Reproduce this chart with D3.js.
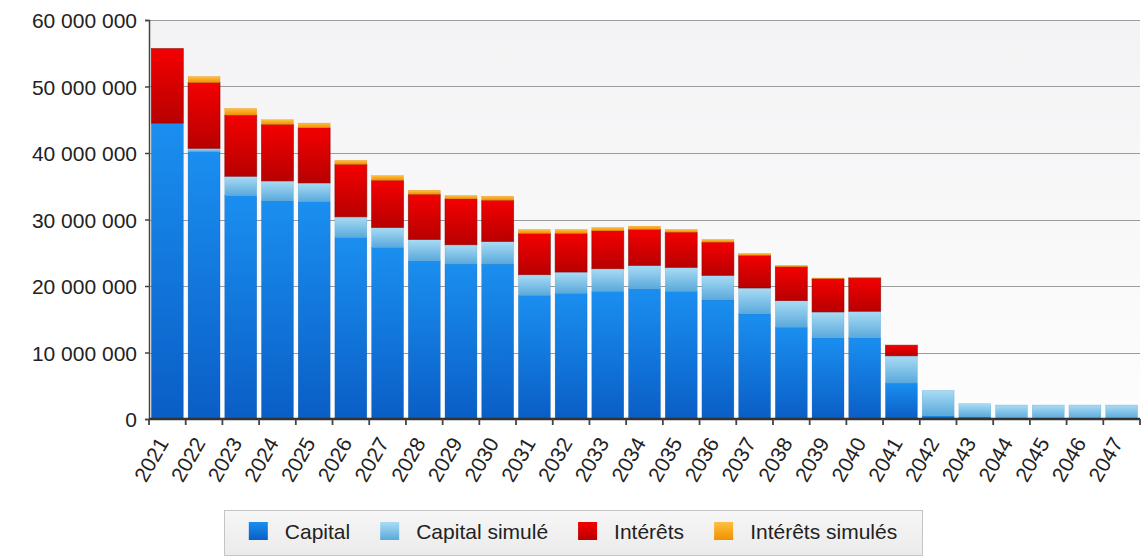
<!DOCTYPE html>
<html>
<head>
<meta charset="utf-8">
<script src="https://cdn.jsdelivr.net/npm/d3@7"></script>
<style>
  body { margin: 0; background: #fff; overflow: hidden; }
  svg { display: block; font-family: "Liberation Sans", Arial, Helvetica, sans-serif; }
  .y-axis text { fill: #222; font-size: 21px; }
  .x-axis text { fill: #222; font-size: 21px; }
  .legend text { fill: #222; font-size: 21px; }
</style>
</head>
<body>
<div id="viz"></div>
<script>
const years = d3.range(2021, 2048).map(String)

// montants en millions
const capital        = [44.5, 40.2, 33.6, 32.8, 32.7, 27.3, 25.8, 23.8, 23.3, 23.3, 18.6, 18.9, 19.2, 19.6, 19.2, 17.9, 15.8, 13.8, 12.2, 12.2, 5.4, 0.5, 0.3, 0, 0, 0, 0]
const capitalSimule  = [0, 0.5, 2.9, 3.0, 2.8, 3.1, 3.0, 3.2, 2.9, 3.4, 3.1, 3.2, 3.4, 3.5, 3.6, 3.7, 3.9, 4.0, 3.9, 4.0, 4.1, 3.8, 2.0, 2.1, 2.1, 2.1, 2.1]
const interets       = [11.2, 9.9, 9.2, 8.5, 8.3, 7.9, 7.1, 6.8, 6.9, 6.2, 6.2, 5.8, 5.7, 5.4, 5.3, 5.0, 4.9, 5.1, 5.0, 5.0, 1.6, 0, 0, 0, 0, 0, 0]
const interetsSimule = [0, 0.9, 1.0, 0.7, 0.7, 0.6, 0.7, 0.6, 0.5, 0.6, 0.6, 0.6, 0.5, 0.5, 0.4, 0.4, 0.3, 0.2, 0.1, 0.1, 0, 0, 0, 0, 0, 0, 0]

const seriesNames = ["Capital", "Capital simulé", "Intérêts", "Intérêts simulés"]
const seriesKeys = ["capital", "capitalSimule", "interets", "interetsSimule"]
const yTicks = [0, 10000000, 20000000, 30000000, 40000000, 50000000, 60000000]

// couleurs : [haut, bas, bord]
const colors = {
  capital:        ["#1a8ff0", "#0a5ec6", "#0a55b0"],
  capitalSimule:  ["#a9dcf4", "#5aa9dc", "#5aa0d0"],
  interets:       ["#f40000", "#b80000", "#8c0000"],
  interetsSimule: ["#ffc040", "#f09000", "#e08000"]
}

const width = 1144
const height = 557
const margin = {top: 20, right: 4, bottom: 138, left: 149}
const innerWidth = width - margin.left - margin.right
const innerHeight = height - margin.top - margin.bottom

const data = years.map((y, i) => ({
  year: y,
  capital: capital[i] * 1e6,
  capitalSimule: capitalSimule[i] * 1e6,
  interets: interets[i] * 1e6,
  interetsSimule: interetsSimule[i] * 1e6
}))

const svg = d3.select("#viz").append("svg")
  .attr("width", width)
  .attr("height", height)

const defs = svg.append("defs")

const bg = defs.append("linearGradient").attr("id", "bg-grad")
  .attr("x1", 0).attr("y1", 0).attr("x2", 0).attr("y2", 1)
bg.append("stop").attr("offset", "0%").attr("stop-color", "#f3f3f5")
bg.append("stop").attr("offset", "100%").attr("stop-color", "#fdfdfd")

seriesKeys.forEach(k => {
  const gr = defs.append("linearGradient").attr("id", "grad-" + k)
    .attr("x1", 0).attr("y1", 0).attr("x2", 0).attr("y2", 1)
  gr.append("stop").attr("offset", "0%").attr("stop-color", colors[k][0])
  gr.append("stop").attr("offset", "100%").attr("stop-color", colors[k][1])
})

const lg = defs.append("linearGradient").attr("id", "legend-grad")
  .attr("x1", 0).attr("y1", 0).attr("x2", 0).attr("y2", 1)
lg.append("stop").attr("offset", "0%").attr("stop-color", "#f6f6f6")
lg.append("stop").attr("offset", "100%").attr("stop-color", "#ebebeb")

const g = svg.append("g")
  .attr("transform", "translate(" + margin.left + "," + margin.top + ")")

const xScale = d3.scaleBand()
  .domain(years)
  .range([0, innerWidth])
  .paddingInner(0.13)
  .paddingOuter(0.065)

const yScale = d3.scaleLinear()
  .domain([0, 60000000])
  .range([innerHeight, 0])

// fond de la zone de tracé
g.append("rect")
  .attr("width", innerWidth)
  .attr("height", innerHeight)
  .attr("fill", "url(#bg-grad)")

// grille
g.append("g")
  .selectAll("line")
  .data(yTicks.slice(1))
  .enter().append("line")
  .attr("x1", 0)
  .attr("x2", innerWidth)
  .attr("y1", d => Math.round(yScale(d)) + 0.5)
  .attr("y2", d => Math.round(yScale(d)) + 0.5)
  .attr("stroke", "#9c9c9c")
  .attr("stroke-width", 1.2)

// barres empilées
const stack = d3.stack().keys(seriesKeys)
const layers = stack(data)

g.selectAll(".layer")
  .data(layers)
  .enter().append("g")
  .attr("class", "layer")
  .each(function(layer) {
    const k = layer.key
    d3.select(this).selectAll("rect")
      .data(layer.filter(d => d[1] - d[0] > 0))
      .enter().append("rect")
      .attr("x", d => xScale(d.data.year))
      .attr("y", d => yScale(d[1]))
      .attr("width", xScale.bandwidth())
      .attr("height", d => yScale(d[0]) - yScale(d[1]))
      .attr("fill", "url(#grad-" + k + ")")
      .attr("stroke", colors[k][2])
      .attr("stroke-width", k == "interets" ? 0.8 : 0.4)
      .attr("stroke-opacity", 0.7)
  })

// axe Y
const yAxisG = g.append("g")
  .attr("class", "y-axis")
  .call(d3.axisLeft(yScale)
    .tickValues(yTicks)
    .tickSize(4)
    .tickPadding(8)
    .tickFormat(d => d3.format(",")(d).replace(/,/g, " ")))
yAxisG.select(".domain").attr("stroke", "#444").attr("stroke-width", 1.5)
yAxisG.selectAll(".tick line").attr("stroke", "#444").attr("stroke-width", 1.5)
yAxisG.selectAll("text").attr("dy", "0.36em")

// axe X
const xAxisG = g.append("g")
  .attr("class", "x-axis")
  .attr("transform", "translate(0," + innerHeight + ")")

xAxisG.append("line")
  .attr("x1", 0).attr("x2", innerWidth)
  .attr("y1", 0).attr("y2", 0)
  .attr("stroke", "#333")
  .attr("stroke-width", 2.5)

const step = xScale.step()
xAxisG.selectAll(".xtick")
  .data(d3.range(years.length + 1))
  .enter().append("line")
  .attr("class", "xtick")
  .attr("x1", i => i * step)
  .attr("x2", i => i * step)
  .attr("y1", 0).attr("y2", 6)
  .attr("stroke", "#444")
  .attr("stroke-width", 1.8)

xAxisG.selectAll(".xlabel")
  .data(years)
  .enter().append("text")
  .attr("class", "xlabel")
  .attr("text-anchor", "end")
  .attr("transform", d => "translate(" + (xScale(d) + xScale.bandwidth() / 2 + 2) + ",24) rotate(-60)")
  .text(d => d)

// légende
const legend = svg.append("g").attr("class", "legend")
legend.append("rect")
  .attr("x", 224.5).attr("y", 510.5)
  .attr("width", 698).attr("height", 45)
  .attr("fill", "url(#legend-grad)")
  .attr("stroke", "#c4c4c4")

const items = legend.append("g")
let xPos = 0
seriesKeys.forEach((k, i) => {
  const it = items.append("g").attr("transform", "translate(" + xPos + ",0)")
  it.append("rect")
    .attr("x", 0).attr("y", 522)
    .attr("width", 19).attr("height", 18)
    .attr("fill", "url(#grad-" + k + ")")
  const t = it.append("text")
    .attr("x", 36).attr("y", 539)
    .text(seriesNames[i])
  xPos += 36 + t.node().getComputedTextLength() + 30
})
const itemsWidth = xPos - 30
items.attr("transform", "translate(" + (224 + (698 - itemsWidth) / 2) + ",0)")
</script>
</body>
</html>
